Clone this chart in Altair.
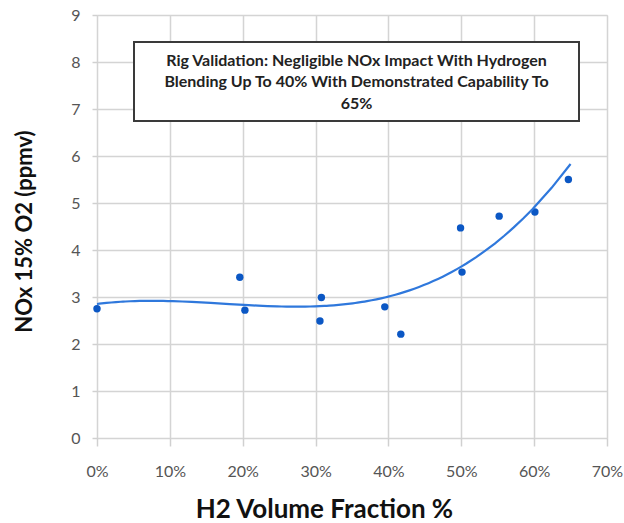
import altair as alt
import pandas as pd

# H2 volume fraction (as fraction) and NOx @15% O2 (ppmv)
h2_fraction = [0.0, 0.196, 0.203, 0.308, 0.306, 0.395, 0.417, 0.499, 0.501, 0.552, 0.601, 0.647]
nox_ppmv = [2.75, 3.42, 2.72, 2.99, 2.49, 2.79, 2.21, 4.47, 3.53, 4.72, 4.81, 5.50]

x_ticks = [0.0, 0.1, 0.2, 0.3, 0.4, 0.5, 0.6, 0.7]
y_ticks = [0, 1, 2, 3, 4, 5, 6, 7, 8, 9]

note_lines = [
    "Rig Validation: Negligible NOx Impact With Hydrogen",
    "Blending Up To 40% With Demonstrated Capability To",
    "65%",
]

df = pd.DataFrame({"h2": h2_fraction, "nox": nox_ppmv})

FONT = "Lato"

x_enc = alt.X(
    "h2:Q",
    scale=alt.Scale(domain=[0, 0.7], nice=False),
    axis=alt.Axis(
        values=x_ticks, format=".0%", title="H2 Volume Fraction %",
        titleFontSize=26, titleFont=FONT, titleFontWeight="bold", titleColor="#111111",
        titleX=227, titleY=71, titleBaseline="middle", titleAlign="center",
        labelFontSize=16, labelFont=FONT, labelColor="#555555", labelPadding=17,
        labelFlush=False,
        tickSize=8, tickColor="#d0d0d0", tickWidth=1.5,
        grid=True, gridColor="#d4d4d4", gridWidth=1.5, domain=False,
    ),
)
y_enc = alt.Y(
    "nox:Q",
    scale=alt.Scale(domain=[0, 9], nice=False),
    axis=alt.Axis(
        values=y_ticks, title="NOx 15% O2 (ppmv)",
        titleFontSize=22, titleFont=FONT, titleFontWeight="bold", titleColor="#111111",
        titleX=-73, titleY=216, titleBaseline="middle", titleAlign="center", titleAngle=270,
        labelFontSize=16, labelFont=FONT, labelColor="#555555", labelPadding=12,
        labelFlush=False,
        tickSize=5, tickColor="#d0d0d0", tickWidth=1.5,
        grid=True, gridColor="#d4d4d4", gridWidth=1.5, domain=False,
    ),
)

base = alt.Chart(df)

points = base.mark_point(
    filled=True, shape="circle", size=55, color="#0b57c4", opacity=1
).encode(x=x_enc, y=y_enc)

trend = base.transform_regression(
    "h2", "nox", method="poly", order=3, extent=[0, 0.65]
).mark_line(color="#2f78dc", strokeWidth=2.2).encode(x="h2:Q", y="nox:Q")

box = alt.Chart(pd.DataFrame({"k": [0]})).mark_rect(
    fill="white", stroke="#3a3a3a", strokeWidth=2
).encode(
    x=alt.value(37), x2=alt.value(482), y=alt.value(27), y2=alt.value(106)
)

note = alt.Chart(pd.DataFrame({"k": [0]})).mark_text(
    text=note_lines, font=FONT, fontSize=16, fontWeight="bold", color="#222222",
    align="center", baseline="middle", lineHeight=21.7,
).encode(x=alt.value(259.5), y=alt.value(45.7))

chart = alt.layer(points, trend, box, note).properties(
    width=510, height=423,
    autosize=alt.AutoSizeParams(type="none"),
    padding={"left": 97, "top": 15, "right": 17, "bottom": 85},
).configure_view(stroke=None).configure(background="white")

chart.save("out.html", embed_options={"renderer": "svg", "actions": False})
